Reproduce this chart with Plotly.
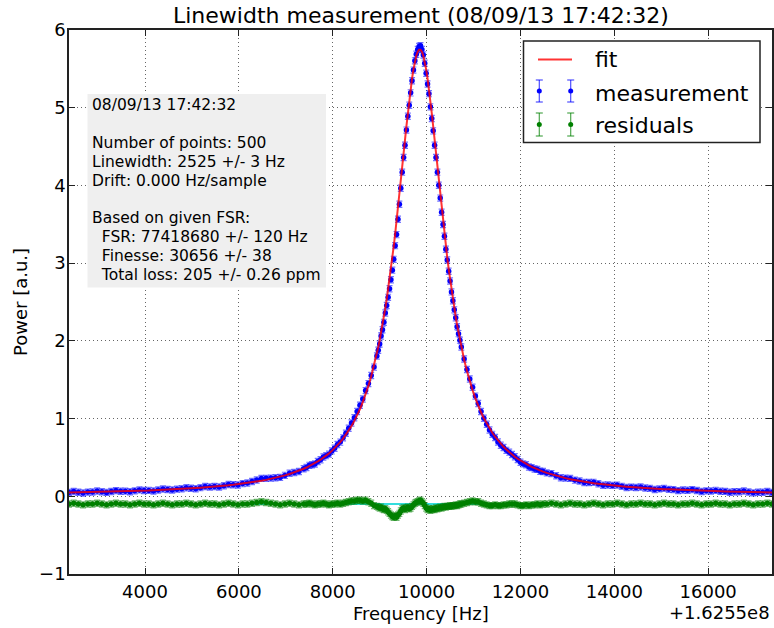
import plotly.graph_objects as go

# ---------------- data (frequency offsets from 1.6255e8 Hz) ----------------
freq_hz = [
    # left tail
    2380, 2480, 2580, 2680, 2780, 2880, 2980, 3080, 3180, 3280,
    3380, 3480, 3580, 3680, 3780, 3880, 3980, 4080, 4180, 4280,
    4380, 4480, 4580, 4680, 4780, 4880, 4980, 5080, 5180, 5280,
    5380, 5480, 5580, 5680, 5780, 5880, 5980, 6080, 6180, 6280,
    6380, 6480, 6580, 6680, 6780, 6880, 6980, 7080, 7180, 7280,
    7380,
    # rising flank
    7440, 7500, 7560, 7620, 7680, 7740, 7800, 7860, 7920, 7980,
    8040, 8100, 8160, 8220, 8280, 8340, 8400, 8460, 8520, 8580,
    8640, 8700, 8760, 8820, 8880, 8940,
    # peak
    8970, 9000, 9030, 9060, 9090, 9120, 9150, 9180, 9210, 9240,
    9270, 9300, 9330, 9360, 9390, 9420, 9450, 9480, 9510, 9540,
    9570, 9600, 9630, 9660, 9690, 9720, 9750, 9780, 9810, 9840,
    9870, 9900, 9930, 9960, 9990, 10020, 10050, 10080, 10110, 10140,
    10170, 10200, 10230, 10260, 10290, 10320, 10350, 10380, 10410, 10440,
    10470, 10500, 10530, 10560, 10590, 10620, 10650, 10680, 10710, 10740,
    # falling flank
    10800, 10860, 10920, 10980, 11040, 11100, 11160, 11220, 11280, 11340,
    11400, 11460, 11520, 11580, 11640, 11700, 11760, 11820, 11880, 11940,
    12000, 12060, 12120, 12180, 12240, 12300, 12360, 12420, 12480,
    # right tail
    12560, 12660, 12760, 12860, 12960, 13060, 13160, 13260, 13360, 13460,
    13560, 13660, 13760, 13860, 13960, 14060, 14160, 14260, 14360, 14460,
    14560, 14660, 14760, 14860, 14960, 15060, 15160, 15260, 15360, 15460,
    15560, 15660, 15760, 15860, 15960, 16060, 16160, 16260, 16360, 16460,
    16560, 16660, 16760, 16860, 16960, 17060, 17160, 17260, 17360,
]

fit_power = [
    0.050, 0.051, 0.052, 0.053, 0.054, 0.056, 0.057, 0.058, 0.060, 0.061,
    0.063, 0.065, 0.066, 0.068, 0.070, 0.072, 0.074, 0.076, 0.079, 0.081,
    0.084, 0.087, 0.090, 0.092, 0.096, 0.099, 0.103, 0.107, 0.111, 0.115,
    0.120, 0.125, 0.130, 0.136, 0.142, 0.149, 0.156, 0.163, 0.171, 0.180,
    0.190, 0.200, 0.211, 0.224, 0.238, 0.253, 0.269, 0.287, 0.307, 0.329,
    0.354,
    0.370, 0.388, 0.406, 0.426, 0.448, 0.471, 0.496, 0.523, 0.552, 0.584,
    0.619, 0.656, 0.697, 0.742, 0.791, 0.845, 0.904, 0.970, 1.042, 1.122,
    1.211, 1.310, 1.420, 1.544, 1.682, 1.836,
    1.920, 2.009, 2.103, 2.203, 2.308, 2.419, 2.536, 2.660, 2.790, 2.926,
    3.070, 3.219, 3.375, 3.537, 3.705, 3.877, 4.053, 4.231, 4.409, 4.587,
    4.762, 4.931, 5.091, 5.241, 5.376, 5.494, 5.593, 5.669, 5.720, 5.747,
    5.747, 5.720, 5.669, 5.593, 5.494, 5.376, 5.241, 5.091, 4.931, 4.762,
    4.587, 4.409, 4.231, 4.053, 3.877, 3.705, 3.537, 3.375, 3.219, 3.070,
    2.926, 2.790, 2.660, 2.536, 2.419, 2.308, 2.203, 2.103, 2.009, 1.920,
    1.757, 1.611, 1.480, 1.364, 1.259, 1.165, 1.081, 1.005, 0.936, 0.874,
    0.817, 0.766, 0.719, 0.676, 0.637, 0.601, 0.568, 0.537, 0.509, 0.483,
    0.459, 0.437, 0.416, 0.397, 0.379, 0.362, 0.346, 0.332, 0.318,
    0.301, 0.282, 0.264, 0.248, 0.234, 0.220, 0.208, 0.197, 0.187, 0.178,
    0.169, 0.161, 0.153, 0.146, 0.140, 0.134, 0.128, 0.123, 0.118, 0.114,
    0.110, 0.106, 0.102, 0.098, 0.095, 0.092, 0.089, 0.086, 0.083, 0.081,
    0.078, 0.076, 0.074, 0.072, 0.070, 0.068, 0.066, 0.064, 0.063, 0.061,
    0.059, 0.058, 0.057, 0.055, 0.054, 0.053, 0.052, 0.051, 0.050,
]

meas_power = [
    0.050, 0.061, 0.052, 0.043, 0.054, 0.056, 0.067, 0.058, 0.050, 0.061,
    0.073, 0.065, 0.066, 0.058, 0.070, 0.082, 0.074, 0.076, 0.069, 0.081,
    0.094, 0.087, 0.080, 0.092, 0.096, 0.109, 0.103, 0.097, 0.111, 0.125,
    0.120, 0.125, 0.120, 0.136, 0.152, 0.149, 0.146, 0.163, 0.171, 0.190,
    0.210, 0.230, 0.231, 0.234, 0.238, 0.243, 0.269, 0.297, 0.307, 0.319,
    0.354,
    0.370, 0.398, 0.406, 0.416, 0.448, 0.471, 0.506, 0.523, 0.542, 0.584,
    0.619, 0.666, 0.697, 0.752, 0.811, 0.875, 0.944, 1.010, 1.092, 1.172,
    1.251, 1.360, 1.450, 1.554, 1.662, 1.806,
    1.880, 1.959, 2.063, 2.143, 2.238, 2.359, 2.456, 2.560, 2.670, 2.786,
    2.910, 3.049, 3.225, 3.367, 3.565, 3.757, 3.963, 4.171, 4.359, 4.517,
    4.712, 4.891, 5.031, 5.191, 5.346, 5.484, 5.603, 5.689, 5.750, 5.787,
    5.797, 5.750, 5.679, 5.573, 5.444, 5.306, 5.181, 5.011, 4.861, 4.702,
    4.517, 4.359, 4.171, 4.003, 3.837, 3.655, 3.497, 3.345, 3.179, 3.040,
    2.896, 2.770, 2.630, 2.516, 2.399, 2.298, 2.183, 2.093, 2.009, 1.920,
    1.767, 1.631, 1.510, 1.404, 1.289, 1.195, 1.091, 1.005, 0.926, 0.854,
    0.797, 0.756, 0.699, 0.656, 0.627, 0.591, 0.568, 0.537, 0.509, 0.473,
    0.439, 0.417, 0.406, 0.377, 0.369, 0.352, 0.346, 0.322, 0.318,
    0.301, 0.292, 0.264, 0.238, 0.234, 0.230, 0.208, 0.197, 0.177, 0.178,
    0.179, 0.161, 0.143, 0.146, 0.140, 0.144, 0.128, 0.113, 0.118, 0.114,
    0.120, 0.106, 0.102, 0.088, 0.095, 0.102, 0.089, 0.086, 0.073, 0.081,
    0.078, 0.086, 0.074, 0.062, 0.070, 0.068, 0.076, 0.064, 0.063, 0.051,
    0.059, 0.058, 0.067, 0.055, 0.044, 0.053, 0.052, 0.061, 0.050,
]

residual = [
    0.00, 0.01, 0.00, -0.01, 0.00, 0.00, 0.01, 0.00, -0.01, 0.00,
    0.01, 0.00, 0.00, -0.01, 0.00, 0.01, 0.00, 0.00, -0.01, 0.00,
    0.01, 0.00, -0.01, 0.00, 0.00, 0.01, 0.00, -0.01, 0.00, 0.01,
    0.00, 0.00, -0.01, 0.00, 0.01, 0.00, -0.01, 0.00, 0.00, 0.01,
    0.02, 0.03, 0.02, 0.01, 0.00, -0.01, 0.00, 0.01, 0.00, -0.01,
    0.00,
    0.00, 0.01, 0.00, -0.01, 0.00, 0.00, 0.01, 0.00, -0.01, 0.00,
    0.00, 0.01, 0.00, 0.01, 0.02, 0.03, 0.04, 0.04, 0.05, 0.05,
    0.04, 0.05, 0.03, 0.01, -0.02, -0.03,
    -0.04, -0.05, -0.04, -0.06, -0.07, -0.06, -0.08, -0.10, -0.12, -0.14,
    -0.16, -0.17, -0.15, -0.17, -0.14, -0.12, -0.09, -0.06, -0.05, -0.07,
    -0.05, -0.04, -0.06, -0.05, -0.03, -0.01, 0.01, 0.02, 0.03, 0.04,
    0.05, 0.03, 0.01, -0.02, -0.05, -0.07, -0.06, -0.08, -0.07, -0.06,
    -0.07, -0.05, -0.06, -0.05, -0.04, -0.05, -0.04, -0.03, -0.04, -0.03,
    -0.03, -0.02, -0.03, -0.02, -0.02, -0.01, -0.02, -0.01, 0.00, 0.00,
    0.01, 0.02, 0.03, 0.04, 0.03, 0.03, 0.01, 0.00, -0.01, -0.02,
    -0.02, -0.01, -0.02, -0.02, -0.01, -0.01, 0.00, 0.00, 0.00, -0.01,
    -0.02, -0.02, -0.01, -0.02, -0.01, -0.01, 0.00, -0.01, 0.00,
    0.00, 0.01, 0.00, -0.01, 0.00, 0.01, 0.00, 0.00, -0.01, 0.00,
    0.01, 0.00, -0.01, 0.00, 0.00, 0.01, 0.00, -0.01, 0.00, 0.00,
    0.01, 0.00, 0.00, -0.01, 0.00, 0.01, 0.00, 0.00, -0.01, 0.00,
    0.00, 0.01, 0.00, -0.01, 0.00, 0.00, 0.01, 0.00, 0.00, -0.01,
    0.00, 0.00, 0.01, 0.00, -0.01, 0.00, 0.00, 0.01, 0.00,
]

MEAS_ERR = 0.04
RESID_ERR = 0.04
RESID_OFFSET = -0.1

x_ticks = [4000, 6000, 8000, 10000, 12000, 14000, 16000]
x_ticklabels = ["4000", "6000", "8000", "10000", "12000", "14000", "16000"]
y_ticks = [-1, 0, 1, 2, 3, 4, 5, 6]
y_ticklabels = ["\u22121", "0", "1", "2", "3", "4", "5", "6"]

title_text = "Linewidth measurement (08/09/13 17:42:32)"
info_lines = [
    "08/09/13 17:42:32",
    "",
    "Number of points: 500",
    "Linewidth: 2525 +/- 3 Hz",
    "Drift: 0.000 Hz/sample",
    "",
    "Based on given FSR:",
    "\u00a0\u00a0FSR: 77418680 +/- 120 Hz",
    "\u00a0\u00a0Finesse: 30656 +/- 38",
    "\u00a0\u00a0Total loss: 205 +/- 0.26 ppm",
]
legend_labels = ["fit", "measurement", "residuals"]

# ---------------- layout geometry ----------------
W, H = 774, 628
PL, PR, PT, PB = 69, 772, 30, 574
FONT = "DejaVu Sans"


def px_x(px):
    return (px - PL) / (PR - PL)


def px_y(py):
    return (PB - py) / (PB - PT)


BLUE = "#0000ff"
BLUE_ERR = "rgba(0,0,255,0.55)"
GREEN = "#008000"
GREEN_ERR = "rgba(0,128,0,0.55)"
RED = "rgba(255,0,0,0.8)"
CYAN = "#33dddd"

fig = go.Figure()

# residual baseline
fig.add_trace(go.Scatter(
    x=[freq_hz[0], freq_hz[-1]], y=[RESID_OFFSET, RESID_OFFSET],
    mode="lines", line=dict(color=CYAN, width=2), showlegend=False,
    hoverinfo="skip"))

fig.add_trace(go.Scatter(
    x=freq_hz, y=[r + RESID_OFFSET for r in residual], mode="markers",
    marker=dict(color=GREEN, size=5.5, line=dict(width=0)),
    error_y=dict(type="constant", value=RESID_ERR, color=GREEN_ERR,
                 thickness=1.2, width=3),
    name="residuals", showlegend=False))

fig.add_trace(go.Scatter(
    x=freq_hz, y=meas_power, mode="markers",
    marker=dict(color=BLUE, size=5.5, line=dict(width=0)),
    error_y=dict(type="constant", value=MEAS_ERR, color=BLUE_ERR,
                 thickness=1.2, width=3),
    name="measurement", showlegend=False))

fig.add_trace(go.Scatter(
    x=freq_hz, y=fit_power, mode="lines",
    line=dict(color=RED, width=2), name="fit", showlegend=False))

shapes = []
annotations = []

# info box
shapes.append(dict(type="rect", xref="paper", yref="paper",
                   x0=px_x(87.5), x1=px_x(326), y0=px_y(287.5), y1=px_y(94),
                   fillcolor="#efefef", line=dict(width=0), layer="above"))
INFO_FS = 15.5
for i, line in enumerate(info_lines):
    if not line:
        continue
    baseline = 110 + i * 18.8
    annotations.append(dict(
        xref="paper", yref="paper", x=px_x(90), y=px_y(baseline - 0.3 * INFO_FS),
        xanchor="left", yanchor="middle", text=line, showarrow=False,
        align="left", font=dict(family=FONT, size=INFO_FS, color="black")))

# legend
shapes.append(dict(type="rect", xref="paper", yref="paper",
                   x0=px_x(523.5), x1=px_x(760), y0=px_y(142.5), y1=px_y(41),
                   fillcolor="white", line=dict(color="#222", width=1.5),
                   layer="above"))
shapes.append(dict(type="line", xref="paper", yref="paper",
                   x0=px_x(538), x1=px_x(572), y0=px_y(59.5), y1=px_y(59.5),
                   line=dict(color=RED, width=2), layer="above"))


def errbar_glyph(cx, cy, half, ecol, mcol):
    out = []
    out.append(dict(type="line", xref="paper", yref="paper",
                    x0=px_x(cx), x1=px_x(cx), y0=px_y(cy - half), y1=px_y(cy + half),
                    line=dict(color=ecol, width=1.2), layer="above"))
    for yy in (cy - half, cy + half):
        out.append(dict(type="line", xref="paper", yref="paper",
                        x0=px_x(cx - 3.5), x1=px_x(cx + 3.5), y0=px_y(yy), y1=px_y(yy),
                        line=dict(color=ecol, width=1.2), layer="above"))
    r = 2.5
    out.append(dict(type="circle", xref="paper", yref="paper",
                    x0=px_x(cx - r), x1=px_x(cx + r), y0=px_y(cy + r), y1=px_y(cy - r),
                    fillcolor=mcol, line=dict(width=0), layer="above"))
    return out


for cx in (539.3, 570.7):
    shapes += errbar_glyph(cx, 91, 11, "rgba(0,0,255,0.7)", BLUE)
    shapes += errbar_glyph(cx, 124.5, 11.5, "rgba(0,128,0,0.7)", GREEN)

LEG_FS = 22
for lbl, base in zip(legend_labels, [66, 100, 131.7]):
    annotations.append(dict(
        xref="paper", yref="paper", x=px_x(593), y=px_y(base - 0.3 * LEG_FS),
        xanchor="left", yanchor="middle", text=lbl, showarrow=False,
        font=dict(family=FONT, size=LEG_FS, color="black")))

# title and axis titles
annotations.append(dict(
    xref="paper", yref="paper", x=0.5, y=px_y(21.7 - 0.3 * 22),
    xanchor="center", yanchor="middle", text=title_text, showarrow=False,
    font=dict(family=FONT, size=22, color="black")))
annotations.append(dict(
    xref="paper", yref="paper", x=0.5, y=px_y(619 - 0.3 * 18),
    xanchor="center", yanchor="middle", text="Frequency [Hz]", showarrow=False,
    font=dict(family=FONT, size=18, color="black")))
annotations.append(dict(
    xref="paper", yref="paper", x=px_x(20), y=0.5,
    xanchor="center", yanchor="middle", text="Power [a.u.]", textangle=-90,
    showarrow=False, font=dict(family=FONT, size=18, color="black")))
annotations.append(dict(
    xref="paper", yref="paper", x=1.0, y=px_y(618 - 0.3 * 18),
    xanchor="right", yanchor="middle", text="+1.6255e8", showarrow=False,
    font=dict(family=FONT, size=18, color="black")))

axis_common = dict(
    showline=True, linecolor="#222", linewidth=1.5, mirror="ticks",
    ticks="inside", ticklen=6, tickwidth=1, tickcolor="#222",
    showgrid=True, gridcolor="#666", gridwidth=1, griddash="1px,3px",
    zeroline=False, tickfont=dict(family=FONT, size=18, color="black"),
)

fig.update_layout(
    width=W, height=H,
    margin=dict(l=PL, r=W - PR, t=PT, b=H - PB, autoexpand=False),
    paper_bgcolor="white", plot_bgcolor="white",
    showlegend=False,
    shapes=shapes, annotations=annotations,
    font=dict(family=FONT, color="black"),
    xaxis=dict(range=[2380, 17360], tickvals=x_ticks, ticktext=x_ticklabels,
               automargin=False, ticklabelstandoff=1, **axis_common),
    yaxis=dict(range=[-1, 6], tickvals=y_ticks, ticktext=y_ticklabels,
               automargin=False, ticklabelstandoff=-2, **axis_common),
)

fig.write_html(
    "out.html",
    config={"displayModeBar": False},
    post_script="document.documentElement.style.margin='0';"
                "document.body.style.margin='0';document.body.style.padding='0';"
                "document.body.style.overflow='hidden';",
)
